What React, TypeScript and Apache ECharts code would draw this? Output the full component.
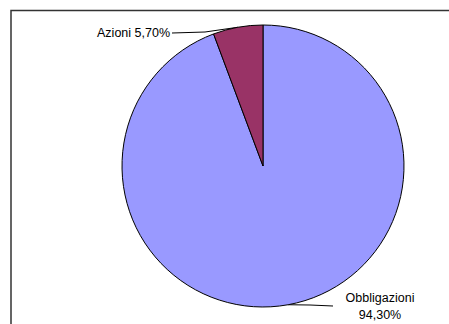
import React, { useEffect, useRef } from "react";
import * as echarts from "echarts";

const categories = ["Obbligazioni", "Azioni"];
const values = [94.3, 5.7];
const labelTexts = ["Obbligazioni\n94,30%", "Azioni 5,70%"];
const colors = ["#9999FF", "#993366"];

export default function App() {
  const ref = useRef<HTMLDivElement>(null);
  useEffect(() => {
    document.body.style.margin = "0";
    const chart = echarts.init(ref.current!, undefined, { renderer: "svg" });
    chart.setOption({
      animation: false,
      backgroundColor: "#fff",
      graphic: [
        {
          type: "rect",
          shape: { x: 11, y: 10.5, width: 600, height: 400 },
          style: { fill: "none", stroke: "#333", lineWidth: 1.5 },
          z: 100,
        },
      ],
      series: [
        {
          type: "pie",
          center: [263, 166],
          radius: 141,
          startAngle: 90,
          clockwise: true,
          data: categories.map((c, i) => ({
            name: c,
            value: values[i],
            itemStyle: { color: colors[i] },
          })),
          itemStyle: { borderColor: "#000", borderWidth: 1 },
          emphasis: { disabled: true },
          label: {
            show: true,
            position: "outside",
            formatter: (p: any) => labelTexts[p.dataIndex],
            fontFamily: "Arial, 'Liberation Sans', sans-serif",
            fontSize: 12.5,
            lineHeight: 17,
            color: "#000",
          },
          labelLine: {
            show: true,
            length: 4,
            length2: 40,
            smooth: false,
            lineStyle: { color: "#000", width: 1 },
          },
          labelLayout: (p: any) => {
            const p0 = p.labelLinePoints ? p.labelLinePoints[0] : [0, 0];
            if (p.dataIndex === 1) {
              return {
                x: 170,
                y: 33,
                align: "right",
                verticalAlign: "middle",
                labelLinePoints: [p0, [205, 32], [172, 33]],
              };
            }
            return {
              x: 380,
              y: 306,
              align: "center",
              verticalAlign: "middle",
              labelLinePoints: [p0, [310, 305], [333, 306]],
            };
          },
        },
      ],
    });
    return () => chart.dispose();
  }, []);
  return (
    <div
      ref={ref}
      style={{ position: "absolute", left: 0, top: 0, width: 449, height: 324 }}
    />
  );
}
